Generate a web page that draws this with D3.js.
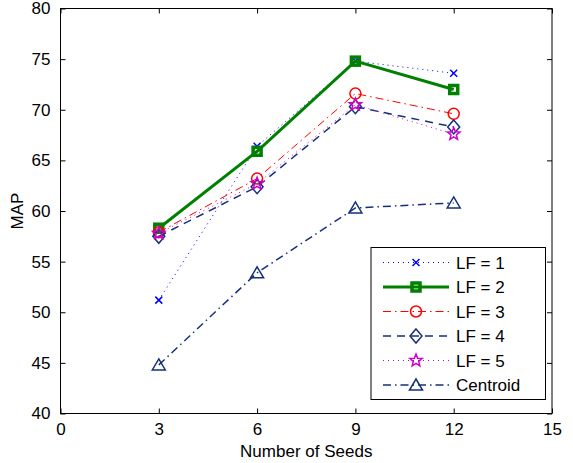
<!DOCTYPE html>
<html>
<head>
<meta charset="utf-8">
<script src="https://cdn.jsdelivr.net/npm/d3@7"></script>
<style>
  body { margin: 0; background: #fff; }
  svg { font-family: "Liberation Sans", Arial, sans-serif; }
</style>
</head>
<body>
<svg id="chart" width="573" height="463"></svg>
<script>
// values
const seeds = [3, 6, 9, 12];
const lf1 = [51.2, 66.4, 74.8, 73.6];
const lf2 = [58.3, 65.9, 74.8, 72.0];
const lf3 = [57.9, 63.2, 71.6, 69.6];
const lf4 = [57.5, 62.4, 70.3, 68.3];
const lf5 = [57.8, 62.7, 70.5, 67.6];
const centroid = [44.8, 53.9, 60.3, 60.8];
const xTicks = [0, 3, 6, 9, 12, 15];
const yTicks = [40, 45, 50, 55, 60, 65, 70, 75, 80];

const navy = "#16307a";
const series = [
  { name: "LF = 1", values: lf1, color: "#0000ff", width: 1, dash: "1,4", marker: "x" },
  { name: "LF = 2", values: lf2, color: "#008000", width: 3, dash: null, marker: "square" },
  { name: "LF = 3", values: lf3, color: "#ff0000", width: 1, dash: "8,4,1.5,4", marker: "circle" },
  { name: "LF = 4", values: lf4, color: navy, width: 1.5, dash: "8,6", marker: "diamond" },
  { name: "LF = 5", values: lf5, color: "#cc00cc", width: 1, dash: "1,4", marker: "star" },
  { name: "Centroid", values: centroid, color: navy, width: 1.5, dash: "8,4,1.5,4", marker: "triangle" }
];

const fs = 17;
const svg = d3.select("#chart");
const x = d3.scaleLinear().domain([0, 15]).range([60.5, 552]);
const y = d3.scaleLinear().domain([40, 80]).range([413.5, 8.5]);

// inward ticks on all four sides
const tl = 5;
svg.append("g").attr("transform", `translate(0,${y(40)})`)
  .call(d3.axisBottom(x).tickValues(xTicks).tickSizeInner(-tl).tickSizeOuter(0).tickPadding(9))
  .call(g => g.select(".domain").remove());
svg.append("g").attr("transform", `translate(0,${y(80)})`)
  .call(d3.axisTop(x).tickValues(xTicks).tickSizeInner(-tl).tickSizeOuter(0).tickFormat(""))
  .call(g => g.select(".domain").remove());
svg.append("g").attr("transform", `translate(${x(0)},0)`)
  .call(d3.axisLeft(y).tickValues(yTicks).tickSizeInner(-tl).tickSizeOuter(0).tickPadding(10))
  .call(g => g.select(".domain").remove());
svg.append("g").attr("transform", `translate(${x(15)},0)`)
  .call(d3.axisRight(y).tickValues(yTicks).tickSizeInner(-tl).tickSizeOuter(0).tickFormat(""))
  .call(g => g.select(".domain").remove());
svg.selectAll(".tick text").attr("font-size", fs).attr("fill", "#000")
  .attr("font-family", "Liberation Sans, Arial, sans-serif");
svg.selectAll(".tick line").attr("stroke", "#000");

svg.append("rect")
  .attr("x", x(0)).attr("y", y(80))
  .attr("width", x(15) - x(0)).attr("height", y(40) - y(80))
  .attr("fill", "none").attr("stroke", "#000").attr("stroke-width", 1);

svg.append("text").attr("x", (x(0) + x(15)) / 2).attr("y", 457)
  .attr("text-anchor", "middle").attr("font-size", fs).text("Number of Seeds");
svg.append("text").attr("transform", `translate(23,${(y(40) + y(80)) / 2}) rotate(-90)`)
  .attr("text-anchor", "middle").attr("font-size", fs).text("MAP");

function drawMarker(g, type, color) {
  const sw = 1.5;
  if (type === "x") {
    g.append("path").attr("d", "M-3.5,-3.5L3.5,3.5M-3.5,3.5L3.5,-3.5").attr("stroke", color).attr("stroke-width", sw).attr("fill", "none");
  } else if (type === "square") {
    g.append("rect").attr("x", -4).attr("y", -4).attr("width", 8).attr("height", 8)
      .attr("fill", "none").attr("stroke", color).attr("stroke-width", 3.5);
  } else if (type === "circle") {
    g.append("circle").attr("r", 5.5).attr("fill", "none").attr("stroke", color).attr("stroke-width", sw);
  } else if (type === "diamond") {
    g.append("path").attr("d", "M0,-7L6,0L0,7L-6,0Z").attr("fill", "none").attr("stroke", color).attr("stroke-width", sw);
  } else if (type === "star") {
    const pts = d3.range(10).map(i => {
      const r = i % 2 === 0 ? 6.5 : 2.8;
      const a = -Math.PI / 2 + i * Math.PI / 5;
      return [r * Math.cos(a), r * Math.sin(a)];
    });
    g.append("path").attr("d", "M" + pts.join("L") + "Z").attr("fill", "none").attr("stroke", color).attr("stroke-width", sw);
  } else if (type === "triangle") {
    g.append("path").attr("d", "M0,-6L6.5,5L-6.5,5Z").attr("fill", "none").attr("stroke", color).attr("stroke-width", sw);
  }
}

const line = d3.line().x(d => x(d[0])).y(d => y(d[1]));
series.forEach(s => {
  const pts = seeds.map((k, i) => [k, s.values[i]]);
  svg.append("path").datum(pts).attr("d", line)
    .attr("fill", "none").attr("stroke", s.color).attr("stroke-width", s.width)
    .attr("stroke-dasharray", s.dash);
  pts.forEach(p => {
    drawMarker(svg.append("g").attr("transform", `translate(${x(p[0])},${y(p[1])})`), s.marker, s.color);
  });
});

// legend
const lg = svg.append("g");
lg.append("rect").attr("x", 371).attr("y", 247.5).attr("width", 174.5).attr("height", 152)
  .attr("fill", "#fff").attr("stroke", "#000").attr("stroke-width", 1);
series.forEach((s, i) => {
  const cy = 262.5 + i * 24.5;
  lg.append("line").attr("x1", 383).attr("x2", 449).attr("y1", cy).attr("y2", cy)
    .attr("stroke", s.color).attr("stroke-width", s.width).attr("stroke-dasharray", s.dash);
  drawMarker(lg.append("g").attr("transform", `translate(416,${cy})`), s.marker, s.color);
  lg.append("text").attr("x", 456).attr("y", cy + 6).attr("font-size", fs).text(s.name);
});
</script>
</body>
</html>
